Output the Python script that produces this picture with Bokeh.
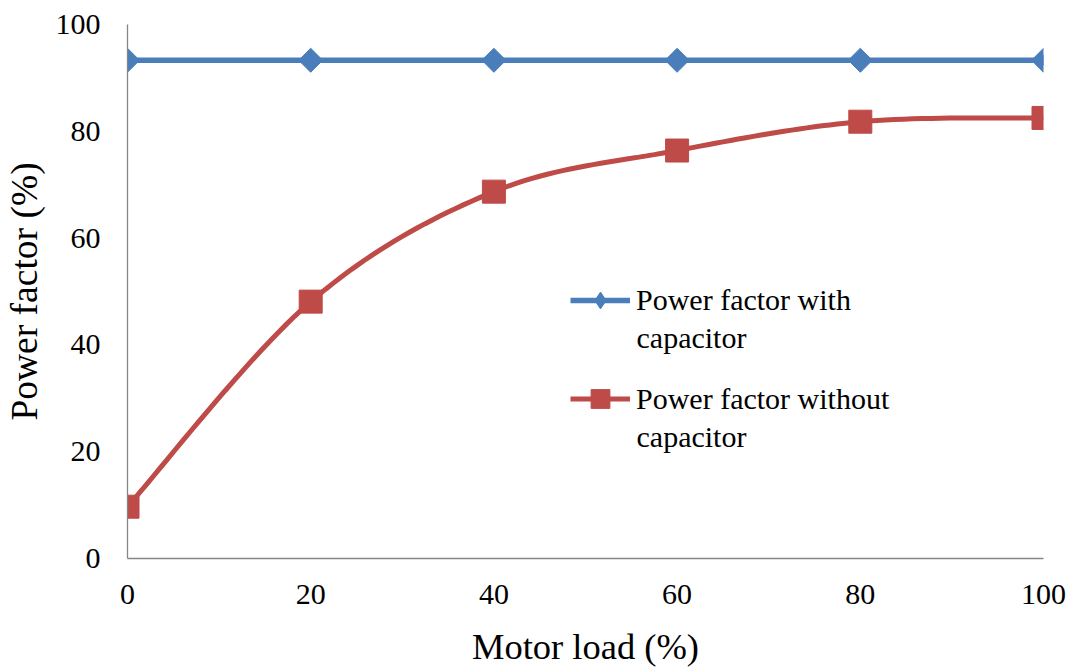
import numpy as np
from bokeh.plotting import figure
from bokeh.models import Range1d, Legend, LegendItem, FixedTicker, Label
from bokeh.embed import file_html
from bokeh.resources import INLINE

motor_load = [0, 20, 40, 60, 80, 100]
pf_with_capacitor = [93.3, 93.3, 93.3, 93.3, 93.3, 93.3]
pf_without_capacitor = [9.7, 48.1, 68.7, 76.4, 81.8, 82.5]
x_ticks = [0, 20, 40, 60, 80, 100]
y_ticks = [0, 20, 40, 60, 80, 100]

FONT = "Liberation Serif"
BLUE = "#4A7EBB"
RED = "#BE4B48"


def catmull_rom(xs, ys, n=24):
    px = [xs[0]] + list(xs) + [xs[-1]]
    py = [ys[0]] + list(ys) + [ys[-1]]
    ox, oy = [], []
    for i in range(1, len(px) - 2):
        t = np.linspace(0, 1, n, endpoint=(i == len(px) - 3))
        for arr, out in ((px, ox), (py, oy)):
            p0, p1, p2, p3 = arr[i - 1], arr[i], arr[i + 1], arr[i + 2]
            c1 = p1 + (p2 - p0) / 6.0
            c2 = p2 - (p3 - p1) / 6.0
            out.extend((1 - t) ** 3 * p1 + 3 * (1 - t) ** 2 * t * c1
                       + 3 * (1 - t) * t ** 2 * c2 + t ** 3 * p2)
    return ox, oy


p = figure(width=1076, height=669, output_backend="svg", toolbar_location=None,
           x_range=Range1d(0, 100), y_range=Range1d(0, 100),
           min_border_left=127, min_border_right=33, min_border_top=24,
           min_border_bottom=111)
p.outline_line_color = None
p.grid.visible = False
p.background_fill_color = "white"
p.border_fill_color = "white"

for ax in (p.xaxis[0], p.yaxis[0]):
    ax.axis_line_color = "#868686"
    ax.axis_line_width = 1.3
    ax.major_tick_line_color = None
    ax.minor_tick_line_color = None
    ax.major_tick_out = 0
    ax.major_tick_in = 0
    ax.minor_tick_out = 0
    ax.major_label_text_font = FONT
    ax.major_label_text_font_size = "30px"
    ax.major_label_text_color = "#000000"
    ax.axis_label_text_font = FONT
    ax.axis_label_text_font_style = "normal"
    ax.axis_label_text_color = "#000000"

p.xaxis.axis_label_text_font_size = "36.5px"
p.yaxis.axis_label_text_font_size = "37.5px"
p.xaxis.ticker = FixedTicker(ticks=x_ticks)
p.yaxis.ticker = FixedTicker(ticks=y_ticks)
p.xaxis.axis_label = "Motor load (%)"
p.yaxis.axis_label = "Power factor (%)"
p.xaxis.major_label_standoff = 26
p.xaxis.axis_label_standoff = 19
p.yaxis.major_label_standoff = 27
p.yaxis.axis_label_standoff = 8

bl = p.line(motor_load, pf_with_capacitor, line_color=BLUE, line_width=5.5)
# diamond sample used by the legend; hidden beneath the plotted markers
bleg = p.scatter(motor_load, pf_with_capacitor, marker="diamond", size=10,
                 fill_color=BLUE, line_color=BLUE)
bm = p.scatter(motor_load, pf_with_capacitor, marker="square", size=17,
               angle=np.pi / 4, fill_color=BLUE, line_color=BLUE)

sx, sy = catmull_rom(motor_load, pf_without_capacitor)
rl = p.line(sx, sy, line_color=RED, line_width=5)
rm = p.scatter(motor_load, pf_without_capacitor, marker="square", size=23,
               fill_color=RED, line_color=RED)


def make_legend(label, renderers, loc, gh):
    lg = Legend(items=[LegendItem(label=label, renderers=renderers)], location=loc)
    lg.label_text_font = FONT
    lg.label_text_font_size = "30px"
    lg.label_text_color = "#000000"
    lg.glyph_width = 60
    lg.glyph_height = gh
    lg.label_standoff = 6
    lg.padding = 0
    lg.margin = 0
    lg.border_line_color = None
    lg.background_fill_alpha = 0
    p.add_layout(lg)


make_legend("Power factor with", [bl, bleg], (443, 237), 42)
make_legend("Power factor without", [rl, rm], (443, 136), 47)

for ly in (221, 122):
    p.add_layout(Label(x=509, y=ly, x_units="screen", y_units="screen",
                       text="capacitor", text_font=FONT, text_font_size="30px",
                       text_baseline="middle", text_color="#000000"))

open("out.html", "w").write(file_html(p, INLINE))
